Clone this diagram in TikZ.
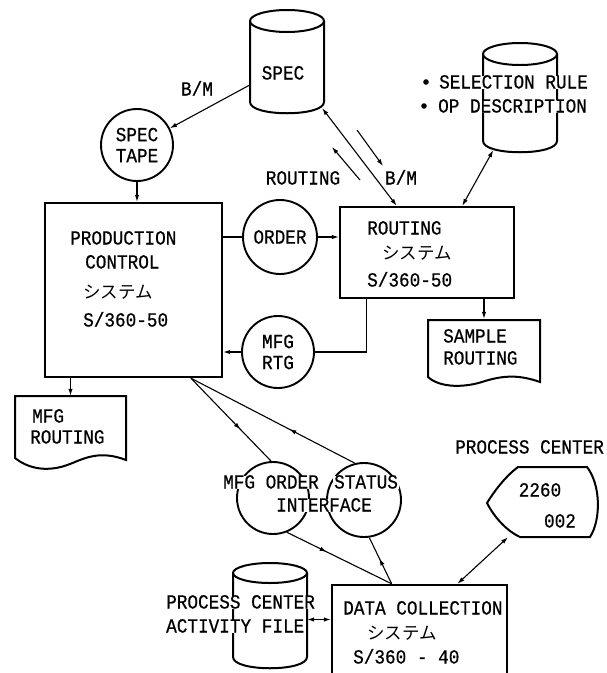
\documentclass[tikz,border=0pt]{standalone}
\usepackage{fontspec}
\setmainfont[FakeStretch=0.885,FakeBold=0.6]{Liberation Mono}
\newfontfamily\jp{Noto Sans CJK JP}
\usetikzlibrary{arrows.meta,calc,decorations.markings}
\newcommand{\sys}{{\jp\fontsize{17.5}{20}\selectfont システム}}
\begin{document}
\begin{tikzpicture}[x=1pt,y=-1pt,
  font=\fontsize{20}{21}\selectfont,
  box/.style={draw, line width=2.4pt, inner sep=0pt},
  circ/.style={draw, circle, line width=1.9pt, inner sep=0pt, align=center},
  ghost/.style={inner sep=0pt},
  txt/.style={inner sep=0pt, text height=13pt, text depth=0pt},
  lt/.style={txt, anchor=west},
  wt/.style={txt, anchor=west, fill=white, inner xsep=1pt},
  conn/.style={line width=1.1pt},
  tip/.style={-{Latex[length=7pt,width=4.5pt]}},
  dtip/.style={{Latex[length=7pt,width=4.5pt]}-{Latex[length=7pt,width=4.5pt]}},
  midarr/.style={postaction={decorate},decoration={markings, mark=at position #1 with {\arrow{Latex[length=7pt,width=4.5pt]}}}},
  shp/.style={line width=2pt}
]
\useasboundingbox (0,0) rectangle (607,673);

% ---- boxes ----
\node[box, minimum width=177pt, minimum height=174pt] (pc) at (133.5,290) {};
\node[box, minimum width=174pt, minimum height=91pt] (rt) at (427,252.5) {};
\node[box, minimum width=175pt, minimum height=91pt] (dc) at (419.5,630.5) {};

% ---- circles ----
\node[circ, minimum size=72pt] (tape) at (137,145) {SPEC\\TAPE};
\node[circ, minimum size=74pt] (order) at (280,237) {ORDER};
\node[circ, minimum size=72pt] (rtg) at (278,352) {MFG\\RTG};
\node[circ, minimum size=72pt] (ifl) at (273,498) {};
\node[circ, minimum size=74pt] (ifr) at (364,500) {};

% ---- cylinders ----
\draw[shp] (287,21) ellipse [x radius=37, y radius=11];
\draw[shp] (250,21) -- (250,102) .. controls (250,117) and (324,117) .. (324,102) -- (324,21);
\node[ghost, minimum width=74pt, minimum height=104pt] (spec) at (287,62) {};
\node[txt] (spect) at (283,73) {SPEC};

\draw[shp] (520,54) ellipse [x radius=37, y radius=11];
\draw[shp] (483,54) -- (483,141) .. controls (483,156) and (557,156) .. (557,141) -- (557,54);
\node[ghost, minimum width=74pt, minimum height=109pt] (sel) at (520,97.5) {};

\draw[shp] (270,573) ellipse [x radius=37, y radius=10];
\draw[shp] (233,573) -- (233,657) .. controls (233,672) and (307,672) .. (307,657) -- (307,573);
\node[ghost, minimum width=74pt, minimum height=105pt] (pcaf) at (270,615.5) {};

% ---- display ----
\draw[shp] (518,467) -- (587,467) .. controls (601,485) and (601,520) .. (590,537) -- (520,537)
  .. controls (505,530) and (493,515) .. (487,503) .. controls (495,490) and (506,476) .. (518,467) -- cycle;
\node[ghost, minimum width=111pt, minimum height=70pt] (disp) at (542.5,502) {};
\node[txt] (d1) at (540,490) {2260};
\node[txt] (d2) at (560,521) {002};
\node[lt] (pclab) at (455,447) {PROCESS CENTER};

% ---- documents ----
\draw[shp] (15,458) -- (15,396) -- (126,396) -- (126,460)
  .. controls (100,450) and (85,458) .. (70,464) .. controls (50,472) and (30,470) .. (15,458) -- cycle;
\node[ghost, minimum width=111pt, minimum height=64pt] (mfgr) at (70.5,428) {};
\node[lt] (m1) at (32,416) {MFG};
\node[lt] (m2) at (30,437) {ROUTING};

\draw[shp] (428,377) -- (428,320) -- (540,320) -- (540,382)
  .. controls (520,375) and (505,375) .. (485,381) .. controls (465,388) and (440,388) .. (428,377) -- cycle;
\node[ghost, minimum width=112pt, minimum height=62pt] (sample) at (484,350) {};
\node[lt] (sm1) at (443,336) {SAMPLE};
\node[lt] (sm2) at (443,358) {ROUTING};

% ---- box texts ----
\node[lt] (pc1) at (70,238) {PRODUCTION};
\node[lt] (pc2) at (85,262) {CONTROL};
\node[lt] (pc3) at (83,292) {\sys};
\node[lt] (pc4) at (83,320) {S/360-50};

\node[lt] (rt1) at (367,228) {ROUTING};
\node[lt] (rt2) at (382,253) {\sys};
\node[lt] (rt3) at (367,280) {S/360-50};

\node[lt] (dc1) at (343,608) {DATA COLLECTION};
\node[lt] (dc2) at (367,633) {\sys};
\node[lt] (dc3) at (353,657) {S/360 - 40};

% ---- texts over shapes ----
\fill (426,82) circle [radius=2.8];
\node[wt] (s1) at (438,82) {SELECTION RULE};
\fill (424,106) circle [radius=2.8];
\node[wt] (s2) at (437,106) {OP DESCRIPTION};

\node[wt] (pa1) at (165,602) {PROCESS CENTER};
\node[wt] (pa2) at (165,626) {ACTIVITY FILE};

\node[wt] (i1) at (222,482) {MFG ORDER};
\node[wt] (i2) at (333,482) {STATUS};
\node[wt] (i3) at (275,505) {INTERFACE};

% ---- labels ----
\node[txt] (bm1) at (197,89) {B/M};
\node[txt] (rl) at (303,178) {ROUTING};
\node[txt] (bm2) at (401,178) {B/M};

% ---- connectors ----
\draw[conn,tip] ($(spec.south west)!0.28!(spec.north west)$) -- (tape.27);
\draw[conn,tip] (tape.south) -- (tape |- pc.north);
\draw[conn] (pc.east |- order) -- (order.west);
\draw[conn,tip] (order.east) -- (rt.west |- order);
\draw[conn,dtip] ($(spec.south east)+(-2,-6)$) -- ($(rt.north west)!0.328!(rt.north east)$);
\coordinate (a1) at (357,130);
\coordinate (a2) at (383,166);
\coordinate (a3) at (360,180);
\coordinate (a4) at (332,147);
\draw[conn,tip] (a1) -- (a2);
\draw[conn,tip] (a3) -- (a4);
\draw[conn,dtip] ($(rt.north west)!0.70!(rt.north east)$) -- ($(sel.south west)!0.14!(sel.south east)+(0,-2)$);
\draw[conn] ($(rt.south west)!0.155!(rt.south east)$) |- (rtg.east);
\draw[conn,tip] (rtg.west) -- (pc.east |- rtg.west);
\draw[conn,tip] (sample.north |- rt.south) -- (sample.north);
\draw[conn,tip] (mfgr.north |- pc.south) -- (mfgr.north);
\coordinate (pcout) at ($(pc.south west)!0.82!(pc.south east)$);
\draw[conn, midarr=0.62] (pcout) -- (ifl.93);
\draw[conn, midarr=0.4] (ifr.104) -- (pcout);
\coordinate (dcin) at ($(dc.north west)!0.343!(dc.north east)$);
\draw[conn, midarr=0.38] (ifl.-68) -- (dcin);
\draw[conn, midarr=0.55] (dcin) -- (ifr.-82);
\coordinate (pcafr) at ($(pcaf.east)+(0,4)$);
\draw[conn,dtip] (pcafr) -- (dc.west |- pcafr);
\draw[conn,dtip] ($(disp.south west)!0.19!(disp.south east)$) -- ($(dc.north west)!0.714!(dc.north east)$);
\end{tikzpicture}
\end{document}
